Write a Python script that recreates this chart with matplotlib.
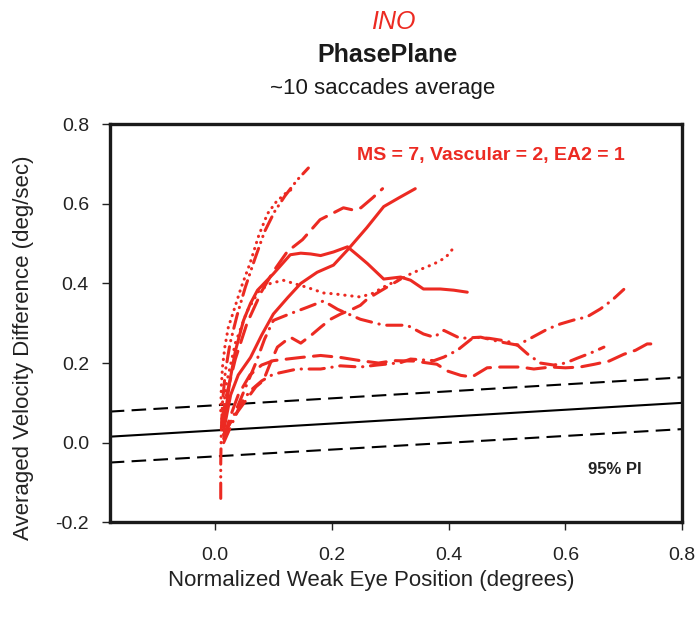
import matplotlib
matplotlib.use("Agg")
import matplotlib.pyplot as plt

plt.rcParams['font.family'] = ['Liberation Sans', 'DejaVu Sans']

RED = '#ec2a22'

# Regression line and 95% prediction interval (values at x = -0.18 and x = 0.8)
pi_x = [-0.18, 0.80]
fit_y = [0.015, 0.100]
upper_y = [0.078, 0.164]
lower_y = [-0.050, 0.034]

# Individual patient phase-plane traces
dot1_x = [0.010, 0.011, 0.013, 0.017, 0.023, 0.032, 0.045, 0.060, 0.075, 0.090, 0.105, 0.120, 0.135]
dot1_y = [0.08, 0.14, 0.19, 0.24, 0.29, 0.33, 0.39, 0.45, 0.52, 0.575, 0.605, 0.625, 0.64]

ddd_x = [0.010, 0.010, 0.011, 0.013, 0.018, 0.026, 0.038, 0.052, 0.068, 0.085, 0.102, 0.120, 0.141, 0.160]
ddd_y = [-0.14, -0.05, 0.03, 0.10, 0.18, 0.25, 0.32, 0.39, 0.46, 0.53, 0.58, 0.62, 0.66, 0.69]

ld1_x = [0.012, 0.020, 0.035, 0.055, 0.080, 0.100, 0.124, 0.150, 0.180, 0.200, 0.220, 0.235, 0.250, 0.270, 0.287]
ld1_y = [0.05, 0.12, 0.21, 0.30, 0.38, 0.43, 0.48, 0.51, 0.56, 0.575, 0.59, 0.585, 0.59, 0.615, 0.638]

solA_x = [0.015, 0.027, 0.040, 0.061, 0.080, 0.100, 0.125, 0.147, 0.175, 0.203, 0.227, 0.260, 0.289, 0.315, 0.343]
solA_y = [0.03, 0.12, 0.17, 0.214, 0.27, 0.323, 0.365, 0.40, 0.428, 0.446, 0.484, 0.54, 0.593, 0.615, 0.638]

solB_x = [0.015, 0.025, 0.035, 0.049, 0.061, 0.073, 0.100, 0.129, 0.147, 0.164, 0.181, 0.203, 0.227,
          0.245, 0.261, 0.289, 0.318, 0.335, 0.357, 0.386, 0.409, 0.432]
solB_y = [0.04, 0.15, 0.23, 0.307, 0.35, 0.383, 0.424, 0.472, 0.476, 0.474, 0.47, 0.479, 0.492,
          0.47, 0.45, 0.411, 0.416, 0.408, 0.386, 0.386, 0.383, 0.378]

dot2_x = [0.012, 0.020, 0.035, 0.055, 0.075, 0.095, 0.117, 0.135, 0.158, 0.186, 0.203, 0.225, 0.249,
          0.270, 0.295, 0.318, 0.335, 0.355, 0.375, 0.395, 0.409]
dot2_y = [0.06, 0.15, 0.25, 0.33, 0.38, 0.40, 0.408, 0.40, 0.39, 0.376, 0.374, 0.37, 0.366,
          0.375, 0.396, 0.41, 0.424, 0.437, 0.449, 0.465, 0.49]

ld2_x = [0.015, 0.030, 0.050, 0.070, 0.083, 0.095, 0.107, 0.129, 0.147, 0.165, 0.181, 0.198, 0.215,
         0.235, 0.249, 0.261, 0.280, 0.295, 0.318]
ld2_y = [0.02, 0.06, 0.10, 0.14, 0.156, 0.20, 0.24, 0.265, 0.25, 0.27, 0.29, 0.31, 0.323,
         0.335, 0.345, 0.361, 0.378, 0.391, 0.411]

dd1_x = [0.015, 0.030, 0.050, 0.070, 0.085, 0.100, 0.129, 0.158, 0.186, 0.210, 0.249, 0.289, 0.329,
         0.357, 0.375, 0.392, 0.420, 0.455, 0.489, 0.518, 0.535, 0.569, 0.591, 0.614, 0.637, 0.660,
         0.680, 0.700]
dd1_y = [0.02, 0.06, 0.13, 0.20, 0.26, 0.307, 0.324, 0.34, 0.356, 0.335, 0.31, 0.295, 0.295,
         0.273, 0.265, 0.282, 0.262, 0.265, 0.253, 0.245, 0.258, 0.285, 0.298, 0.308, 0.316, 0.336,
         0.358, 0.385]

ld3_x = [0.015, 0.025, 0.040, 0.060, 0.080, 0.100, 0.147, 0.181, 0.215, 0.249, 0.280, 0.306, 0.340,
         0.380, 0.398, 0.421, 0.440, 0.466, 0.489, 0.523, 0.546, 0.575, 0.600, 0.625, 0.650, 0.675,
         0.700, 0.720, 0.740, 0.760]
ld3_y = [0.01, 0.06, 0.12, 0.17, 0.195, 0.206, 0.214, 0.219, 0.214, 0.206, 0.20, 0.206, 0.205,
         0.197, 0.18, 0.169, 0.165, 0.188, 0.19, 0.19, 0.185, 0.19, 0.188, 0.19, 0.197, 0.205,
         0.222, 0.232, 0.248, 0.248]

dd2_x = [0.015, 0.030, 0.045, 0.061, 0.080, 0.100, 0.141, 0.181, 0.215, 0.249, 0.278, 0.318, 0.335,
         0.375, 0.392, 0.415, 0.426, 0.443, 0.470, 0.500, 0.518, 0.535, 0.557, 0.580, 0.600, 0.620,
         0.643, 0.666]
dd2_y = [0.0, 0.05, 0.10, 0.131, 0.155, 0.172, 0.185, 0.185, 0.193, 0.19, 0.195, 0.201, 0.21,
         0.206, 0.215, 0.232, 0.245, 0.265, 0.262, 0.255, 0.245, 0.223, 0.20, 0.195, 0.20, 0.212,
         0.225, 0.24]

traces = [
    (dot1_x, dot1_y, (0, (0.1, 2.0))),
    (ddd_x, ddd_y, (0, (5, 2, 0.1, 2, 0.1, 2))),
    (ld1_x, ld1_y, (0, (6, 3))),
    (solA_x, solA_y, '-'),
    (solB_x, solB_y, '-'),
    (dot2_x, dot2_y, (0, (0.1, 2.2))),
    (ld2_x, ld2_y, (0, (5, 3))),
    (dd1_x, dd1_y, (0, (5, 2.5, 0.1, 2.5))),
    (ld3_x, ld3_y, (0, (6, 3))),
    (dd2_x, dd2_y, (0, (5, 2.5, 0.1, 2.5))),
]

fig = plt.figure(figsize=(6.99, 6.21), dpi=100)
ax = fig.add_axes([0.157, 0.159, 0.819, 0.641])

ax.plot(pi_x, fit_y, color='black', lw=1.5, solid_capstyle='butt')
ax.plot(pi_x, upper_y, color='black', lw=1.5, linestyle=(0, (7, 3.5)))
ax.plot(pi_x, lower_y, color='black', lw=1.5, linestyle=(0, (7, 3.5)))

for xs, ys, ls in traces:
    ax.plot(xs, ys, color=RED, lw=2.2, linestyle=ls,
            dash_capstyle='round', solid_capstyle='round', solid_joinstyle='round')

ax.set_xlim(-0.18, 0.80)
ax.set_ylim(-0.2, 0.8)
ax.set_xticks([0.0, 0.2, 0.4, 0.6, 0.8])
ax.set_xticklabels(['0.0', '0.2', '0.4', '0.6', '0.8'])
ax.set_yticks([-0.2, 0.0, 0.2, 0.4, 0.6, 0.8])
ax.set_yticklabels(['-0.2', '0.0', '0.2', '0.4', '0.6', '0.8'])
ax.tick_params(axis='both', direction='out', length=6, width=1, labelsize=14,
               colors='#222222')
ax.tick_params(axis='x', pad=12)
ax.tick_params(axis='y', pad=9)
for sp in ax.spines.values():
    sp.set_linewidth(2.4)
    sp.set_color('#1a1a1a')

fig.text(0.033, 0.44, 'Averaged Velocity Difference (deg/sec)', fontsize=16,
         color='#222222', rotation=90, ha='center', va='center')
fig.text(0.531, 0.066, 'Normalized Weak Eye Position (degrees)', fontsize=16,
         color='#222222', ha='center', va='center')

ax.annotate('MS = 7, Vascular = 2, EA2 = 1', xy=(0.244, 0.722), xycoords='data',
            fontsize=14, fontweight='bold', color=RED, ha='left', va='center')
ax.annotate('95% PI', xy=(0.684, -0.068), xycoords='data',
            fontsize=12, fontweight='bold', color='#222222', ha='center', va='center')

fig.text(0.563, 0.965, 'INO', fontsize=18, fontstyle='italic', color=RED, ha='center', va='center')
fig.text(0.555, 0.911, 'PhasePlane', fontsize=18, fontweight='bold', color='#1a1a1a',
         ha='center', va='center')
fig.text(0.548, 0.858, '~10 saccades average', fontsize=16, color='#1a1a1a',
         ha='center', va='center')

fig.savefig('out.png', dpi=100)
